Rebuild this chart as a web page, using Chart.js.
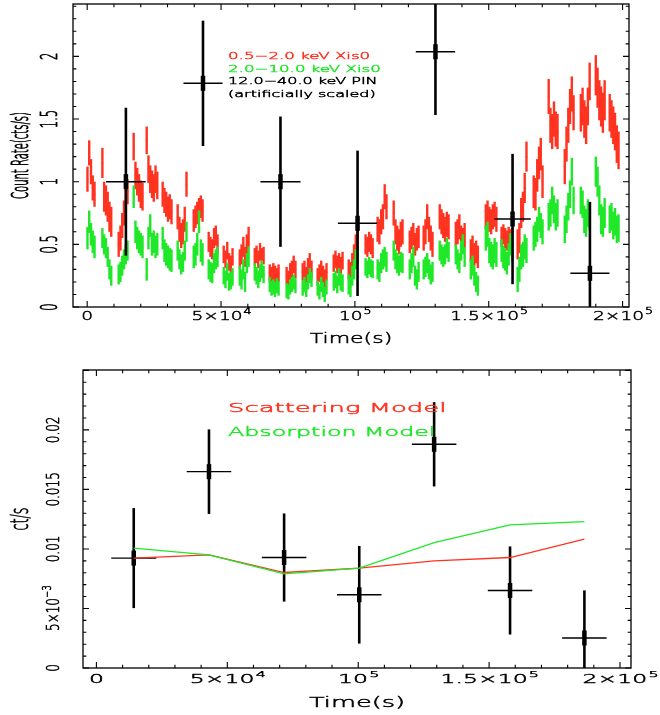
<!DOCTYPE html>
<html><head><meta charset="utf-8">
<script src="https://cdn.jsdelivr.net/npm/chart.js@4.4.0/dist/chart.umd.min.js"></script>
<style>
html,body{margin:0;padding:0;background:#fff;}
#wrap{position:relative;width:660px;height:715px;overflow:hidden;}
canvas{position:absolute;left:0;}
</style></head><body>
<div id="wrap">
<canvas id="top" width="660" height="355" style="top:0;width:660px;height:355px"></canvas>
<canvas id="bot" width="660" height="360" style="top:355px;width:660px;height:360px"></canvas>
</div>
<script>
// ---------- DATA ----------
// light curve: first-bin time of each orbit segment (s) and bin width (s)
const segStart = [100, 5680, 11770, 17370, 22230, 28200, 33800, 39800, 45400, 51000, 57000, 62600, 68200, 74500, 80500, 86100, 92100, 97700, 104000, 108500, 114500, 120500, 125700, 131700, 137700, 143300, 148900, 154800, 160800, 166800, 172400, 178400, 184400, 190000, 195200];
const binWidth = 660;
// 0.5-2.0 keV XIS0 rates per segment (cts/s)
const softRate = [
 [1.02,1.23,1.08,0.95,0.90],
 [1.15,0.88,0.85,0.80,0.72,0.68],
 [0.50,0.55,0.65,0.75,0.85,0.92],
 [1.28,1.05,1.00,0.95,0.90,0.88],
 [1.33,1.10,1.02,0.98,0.95,1.02,0.97],
 [0.90,0.85,0.82,0.78,0.80,0.76],
 [0.72,0.62,0.57,0.60,0.70,0.98],
 [0.69,0.72,0.75,0.78,0.80,0.77],
 [0.52,0.48,0.46,0.55,0.57,0.50],
 [0.42,0.38,0.45,0.36,0.34,0.40],
 [0.38,0.42,0.48,0.40,0.50,0.56],
 [0.40,0.42,0.38,0.44,0.40,0.41],
 [0.27,0.25,0.28,0.26,0.24,0.27],
 [0.25,0.22,0.28,0.30,0.34,0.30],
 [0.28,0.30,0.25,0.32,0.36,0.30],
 [0.24,0.27,0.30,0.26,0.23,0.28],
 [0.35,0.38,0.34,0.36,0.33,0.37],
 [0.30,0.28,0.35,0.42,0.50,0.55],
 [0.50,0.48,0.52,0.50,0.47],
 [0.62,0.60,0.68,0.72,0.88,0.80],
 [0.75,0.60,0.55,0.52,0.58,0.60],
 [0.52,0.55,0.58,0.50,0.54,0.56],
 [0.55,0.60,0.72,0.62,0.55,0.50],
 [0.72,0.68,0.65,0.62,0.66,0.64],
 [0.58,0.60,0.64,0.55,0.53,0.57],
 [0.45,0.48,0.42,0.44,0.40],
 [0.72,0.75,0.70,0.68,0.72,0.74,0.70],
 [0.56,0.58,0.55,0.53,0.56,0.54,0.55],
 [0.50,0.55,0.75,0.80,0.95,1.20],
 [0.92,0.90,1.05,1.15,1.22,1.00],
 [1.68,1.45,1.40,1.50,1.42,1.40],
 [1.12,1.30,1.45,1.60,1.70,1.55],
 [1.55,1.60,1.50,1.45,1.60,1.80],
 [1.85,1.75,1.65,1.60,1.55,1.65],
 [1.55,1.50,1.45,1.40,1.30,1.25]
];
const softErr = [0.10,0.12,0.10,0.11,0.11,0.10,0.10,0.09,0.08,0.07,0.08,0.07,0.07,0.07,0.07,0.07,0.07,0.08,0.08,0.10,0.10,0.09,0.10,0.10,0.10,0.09,0.10,0.08,0.12,0.13,0.14,0.14,0.15,0.16,0.15];
// 2.0-10.0 keV XIS0 rates per segment (cts/s)
const hardRate = [
 [0.55,0.68,0.58,0.52,0.48],
 [0.55,0.50,0.47,0.40,0.30,0.25],
 [0.26,0.28,0.33,0.38,0.42,0.45],
 [0.88,0.60,0.55,0.52,0.50,0.48],
 [0.30,0.55,0.65,0.50,0.52,0.48,0.50],
 [0.55,0.45,0.42,0.40,0.38,0.37],
 [0.45,0.38,0.34,0.36,0.45,0.60],
 [0.40,0.42,0.50,0.68,0.45,0.42],
 [0.30,0.28,0.27,0.35,0.38,0.40],
 [0.25,0.22,0.28,0.20,0.21,0.24],
 [0.25,0.22,0.30,0.20,0.35,0.40],
 [0.28,0.25,0.22,0.27,0.30,0.26],
 [0.18,0.15,0.16,0.14,0.17,0.15],
 [0.13,0.12,0.16,0.18,0.20,0.17],
 [0.15,0.18,0.14,0.20,0.25,0.22],
 [0.15,0.12,0.18,0.14,0.10,0.16],
 [0.20,0.22,0.18,0.24,0.20,0.19],
 [0.18,0.16,0.25,0.30,0.38,0.42],
 [0.32,0.30,0.33,0.31,0.30],
 [0.30,0.28,0.35,0.38,0.40,0.36],
 [0.45,0.38,0.35,0.33,0.36,0.35],
 [0.30,0.35,0.40,0.25,0.22,0.28],
 [0.30,0.32,0.35,0.30,0.26,0.28],
 [0.45,0.42,0.40,0.42,0.47,0.44],
 [0.42,0.38,0.35,0.45,0.50,0.40],
 [0.30,0.33,0.25,0.20,0.17],
 [0.55,0.58,0.45,0.42,0.40,0.45,0.42],
 [0.45,0.40,0.38,0.35,0.42,0.50,0.45],
 [0.22,0.30,0.40,0.42,0.48,0.45],
 [0.55,0.58,0.62,0.70,0.65,0.60],
 [0.72,0.75,0.85,0.78,0.72,0.75],
 [0.62,0.70,0.80,0.90,1.08,0.85],
 [0.85,0.82,0.70,0.67,0.75,0.72],
 [1.08,1.00,0.85,0.70,0.68,0.75],
 [0.70,0.72,0.65,0.68,0.62,0.63]
];
const hardErr = [0.09,0.08,0.08,0.09,0.09,0.09,0.08,0.09,0.08,0.07,0.08,0.07,0.06,0.06,0.06,0.06,0.07,0.08,0.07,0.08,0.08,0.08,0.08,0.08,0.08,0.08,0.10,0.09,0.10,0.10,0.11,0.11,0.11,0.12,0.11];
// 12.0-40.0 keV PIN (artificially scaled)
const pinTime = [14460, 43260, 72200, 101000, 130100, 158900, 187800];
const pinRate = [1.00, 1.785, 1.00, 0.668, 2.037, 0.702, 0.269];
const pinErr  = [0.59, 0.50, 0.52, 0.58, 0.505, 0.52, 0.57];
const pinHalf = [7400, 7300, 7500, 7350, 7350, 6800, 7300];
// lower panel: PIN count rate and models
const obsTime = [14260, 43000, 71700, 100400, 129000, 158000, 186400];
const obsRate = [0.00923, 0.01649, 0.00928, 0.00615, 0.01879, 0.00651, 0.00252];
const obsErr  = [0.0042, 0.00355, 0.0037, 0.0041, 0.00354, 0.0037, 0.0040];
const obsHalf = [8600, 8500, 8500, 8500, 8500, 8500, 8500];
const scatModel = [0.00923, 0.0095, 0.00802, 0.00839, 0.0090, 0.00928, 0.01082];
const absModel  = [0.01007, 0.0095, 0.00791, 0.00839, 0.01054, 0.01202, 0.0123];
// tick labels
const xTickVals = [0, 50000, 100000, 150000, 200000];
const xTickText = [['0',''], ['5\u00d710','4'], ['10','5'], ['1.5\u00d710','5'], ['2\u00d710','5']];
const topYVals = [0, 0.5, 1, 1.5, 2];
const topYText = [['0',''], ['0.5',''], ['1',''], ['1.5',''], ['2','']];
const botYVals = [0, 0.005, 0.01, 0.015, 0.02];
const botYText = [['0',''], ['5\u00d710','\u22123'], ['0.01',''], ['0.015',''], ['0.02','']];

// ---------- STYLE ----------
const RED = '#ff3320', GREEN = '#1fe828', FONT = '"DejaVu Sans"';

function lcPoints(rates, errs) {
  const pts = [], ey = [], ex = [];
  segStart.forEach((t0, s) => rates[s].forEach((v, i) => {
    pts.push({x: t0 + i * binWidth, y: v}); ey.push(errs[s]); ex.push(binWidth / 2);
  }));
  return {pts, ey, ex};
}
const soft = lcPoints(softRate, softErr);
const hard = lcPoints(hardRate, hardErr);

function putText(ctx, s, x, y, col) {
  ctx.fillStyle = col; ctx.strokeStyle = col; ctx.lineWidth = 0.45; ctx.lineJoin = 'round';
  ctx.fillText(s, x, y); ctx.strokeText(s, x, y);
}

function drawText(ctx, base, sup, cx, cy, o) {
  ctx.save();
  ctx.translate(cx, cy);
  if (o.rot) ctx.rotate(-Math.PI / 2);
  ctx.scale(o.sx, o.sy);
  const f = o.f, fs = f * 0.68;
  ctx.font = o.w + ' ' + f + 'px ' + FONT;
  const wb = ctx.measureText(base).width;
  ctx.font = o.w + ' ' + fs + 'px ' + FONT;
  const ws = sup ? ctx.measureText(sup).width : 0;
  ctx.textBaseline = 'alphabetic'; ctx.textAlign = 'left';
  const col = o.color || '#000';
  const x0 = o.left ? 0 : -(wb + ws) / 2;
  const yb = f * 0.73 / 2;
  ctx.font = o.w + ' ' + f + 'px ' + FONT;
  putText(ctx, base, x0, yb, col);
  if (sup) { ctx.font = o.w + ' ' + fs + 'px ' + FONT; putText(ctx, sup, x0 + wb + f * 0.05, yb - f * 0.5, col); }
  ctx.restore();
}

function drawErrors(chart) {
  const ctx = chart.ctx, xs = chart.scales.x, ys = chart.scales.y, ca = chart.chartArea;
  ctx.save();
  ctx.beginPath(); ctx.rect(ca.left, ca.top, ca.right - ca.left, ca.bottom - ca.top); ctx.clip();
  ctx.lineCap = 'butt';
  chart.data.datasets.forEach(ds => {
    if (!ds.errY) return;
    ctx.strokeStyle = ds.errColor;
    ds.data.forEach((p, i) => {
      const px = xs.getPixelForValue(p.x), py = ys.getPixelForValue(p.y);
      const y1 = ys.getPixelForValue(p.y + ds.errY[i]), y2 = ys.getPixelForValue(p.y - ds.errY[i]);
      const x1 = xs.getPixelForValue(p.x - ds.errX[i]), x2 = xs.getPixelForValue(p.x + ds.errX[i]);
      ctx.lineWidth = ds.errWY;
      ctx.beginPath(); ctx.moveTo(px, y1); ctx.lineTo(px, y2); ctx.stroke();
      ctx.lineWidth = ds.errWX;
      ctx.beginPath(); ctx.moveTo(x1, py); ctx.lineTo(x2, py); ctx.stroke();
      if (ds.core) {
        ctx.lineWidth = ds.core.w;
        ctx.beginPath(); ctx.moveTo(px, py - ds.core.h); ctx.lineTo(px, py + ds.core.h); ctx.stroke();
      }
    });
  });
  ctx.restore();
}

function drawAxes(chart, c) {
  const ctx = chart.ctx, xs = chart.scales.x, ys = chart.scales.y, ca = chart.chartArea;
  ctx.save();
  ctx.strokeStyle = '#000'; ctx.lineWidth = 1.3;
  ctx.strokeRect(ca.left, ca.top, ca.right - ca.left, ca.bottom - ca.top);
  ctx.lineWidth = 1.1;
  const kx0 = Math.ceil(xs.min / c.xMinor), kx1 = Math.floor(xs.max / c.xMinor);
  for (let k = kx0; k <= kx1; k++) {
    const px = xs.getPixelForValue(k * c.xMinor);
    const L = (k % c.xRatio === 0) ? 6 : 3.3;
    ctx.beginPath();
    ctx.moveTo(px, ca.bottom); ctx.lineTo(px, ca.bottom - L);
    ctx.moveTo(px, ca.top); ctx.lineTo(px, ca.top + L);
    ctx.stroke();
  }
  const ky0 = Math.ceil(ys.min / c.yMinor - 1e-6), ky1 = Math.floor(ys.max / c.yMinor + 1e-6);
  for (let k = ky0; k <= ky1; k++) {
    const py = ys.getPixelForValue(k * c.yMinor);
    const L = (k % c.yRatio === 0) ? 6 : 3.3;
    ctx.beginPath();
    ctx.moveTo(ca.left, py); ctx.lineTo(ca.left + L, py);
    ctx.moveTo(ca.right, py); ctx.lineTo(ca.right - L, py);
    ctx.stroke();
  }
  ctx.restore();
  xTickVals.forEach((v, i) => drawText(ctx, xTickText[i][0], xTickText[i][1], xs.getPixelForValue(v), c.xLab.y, c.xLab));
  c.yVals.forEach((v, i) => drawText(ctx, c.yText[i][0], c.yText[i][1], c.yLab.x, ys.getPixelForValue(v), c.yLab));
  drawText(ctx, c.xTitle.text, '', (ca.left + ca.right) / 2, c.xTitle.y, c.xTitle);
  drawText(ctx, c.yTitle.text, '', c.yTitle.x, (ca.top + ca.bottom) / 2, c.yTitle);
  c.legend.forEach(l => drawText(ctx, l.text, '', l.x, l.y, l));
}

function makePlugin(c) {
  return {
    id: 'pg',
    beforeDatasetsDraw(chart) { if (c.errLayer === 'before') drawErrors(chart); },
    afterDatasetsDraw(chart) { if (c.errLayer !== 'before') drawErrors(chart); },
    afterDraw(chart) { drawAxes(chart, c); }
  };
}

const W = '200';
const baseOpts = (pad, xr, yr) => ({
  responsive: false, animation: false, events: [],
  layout: {padding: pad},
  plugins: {legend: {display: false}, tooltip: {enabled: false}},
  scales: {
    x: {type: 'linear', display: false, min: xr[0], max: xr[1]},
    y: {type: 'linear', display: false, min: yr[0], max: yr[1]}
  }
});

new Chart(document.getElementById('top'), {
  type: 'scatter',
  data: {datasets: [
    {data: soft.pts, errY: soft.ey, errX: soft.ex, errColor: RED, errWY: 2.4, errWX: 1, pointRadius: 0, showLine: false},
    {data: hard.pts, errY: hard.ey, errX: hard.ex, errColor: GREEN, errWY: 2.4, errWX: 1, pointRadius: 0, showLine: false},
    {data: pinTime.map((t, i) => ({x: t, y: pinRate[i]})), errY: pinErr, errX: pinHalf, errColor: '#000',
     errWY: 2.6, errWX: 1.4, core: {w: 4.5, h: 7.5}, pointRadius: 0, showLine: false}
  ]},
  options: baseOpts({left: 73, right: 31, top: 4, bottom: 48}, [-5300, 202400], [0, 2.418]),
  plugins: [makePlugin({
    errLayer: 'after', xMinor: 10000, xRatio: 5, yMinor: 0.1, yRatio: 5,
    yVals: topYVals, yText: topYText,
    xLab: {y: 316, f: 12, sx: 1.55, sy: 1, w: W},
    yLab: {x: 49, f: 11.5, sx: 1, sy: 2.0, rot: true, w: W},
    xTitle: {text: 'Time(s)', y: 338, f: 13.5, sx: 1.63, sy: 1, w: W},
    yTitle: {text: 'Count Rate(cts/s)', x: 20, f: 10, sx: 1, sy: 2.3, rot: true, w: W},
    legend: [
      {text: '0.5\u22122.0 keV Xis0', x: 228, y: 55.7, f: 9, sx: 1.85, sy: 1, left: true, color: RED, w: W},
      {text: '2.0\u221210.0 keV Xis0', x: 228, y: 68.3, f: 9, sx: 1.85, sy: 1, left: true, color: GREEN, w: W},
      {text: '12.0\u221240.0 keV PIN', x: 228, y: 81, f: 9, sx: 1.78, sy: 1, left: true, color: '#000', w: W},
      {text: '(artificially scaled)', x: 228, y: 93.3, f: 9, sx: 1.78, sy: 1, left: true, color: '#000', w: W}
    ]
  })]
});

new Chart(document.getElementById('bot'), {
  type: 'scatter',
  data: {datasets: [
    {data: obsTime.map((t, i) => ({x: t, y: obsRate[i]})), errY: obsErr, errX: obsHalf, errColor: '#000',
     errWY: 2.6, errWX: 1.4, core: {w: 4.5, h: 7.5}, pointRadius: 0, showLine: false},
    {data: obsTime.map((t, i) => ({x: t, y: absModel[i]})), showLine: true, borderColor: GREEN, borderWidth: 1.3, pointRadius: 0, tension: 0},
    {data: obsTime.map((t, i) => ({x: t, y: scatModel[i]})), showLine: true, borderColor: RED, borderWidth: 1.3, pointRadius: 0, tension: 0}
  ]},
  options: baseOpts({left: 83, right: 29, top: 15, bottom: 47}, [-5120, 204200], [0, 0.02503]),
  plugins: [makePlugin({
    errLayer: 'before', xMinor: 10000, xRatio: 5, yMinor: 0.001, yRatio: 5,
    yVals: botYVals, yText: botYText,
    xLab: {y: 324, f: 11.5, sx: 2.05, sy: 1, w: W},
    yLab: {x: 53, f: 12, sx: 1, sy: 1.44, rot: true, w: W},
    xTitle: {text: 'Time(s)', y: 347, f: 13.5, sx: 1.9, sy: 1, w: W},
    yTitle: {text: 'ct/s', x: 19, f: 12.8, sx: 1, sy: 1.9, rot: true, w: W},
    legend: [
      {text: 'Scattering Model', x: 228, y: 52.3, f: 12.5, sx: 2.07, sy: 1, left: true, color: RED, w: W},
      {text: 'Absorption Model', x: 228, y: 76, f: 12.5, sx: 1.9, sy: 1, left: true, color: GREEN, w: W}
    ]
  })]
});
</script>
</body></html>
